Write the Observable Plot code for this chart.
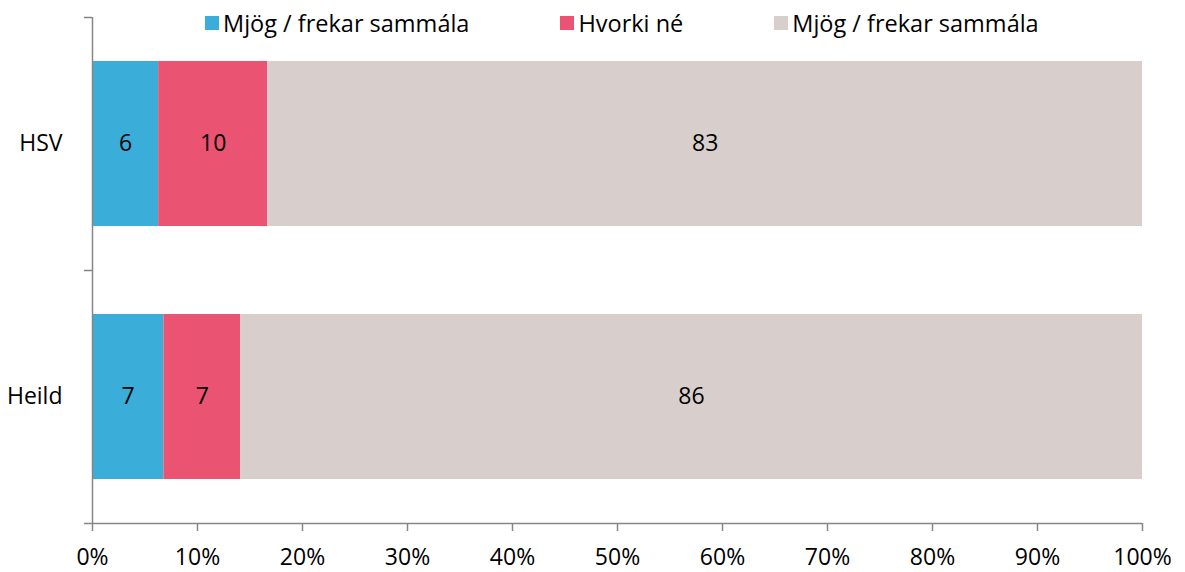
<!DOCTYPE html>
<html><head><meta charset="utf-8">
<script src="https://cdn.jsdelivr.net/npm/d3@7"></script>
<script src="https://cdn.jsdelivr.net/npm/@observablehq/plot@0.6"></script>
<style>
body{margin:0;background:#fff;font-family:"Open Sans",sans-serif;}
#wrap{position:relative;width:1185px;height:572px;overflow:hidden;}
#legend{position:absolute;top:8px;left:205px;display:flex;align-items:center;font-size:23.5px;line-height:30px;color:#000;white-space:nowrap;}
.item{display:flex;align-items:center;margin-right:91px}
.sw{width:14px;height:14px;margin-right:4px;flex:none}
svg{display:block}
</style></head><body><div id="wrap"><div id="legend"></div></div>
<script>
// ---- data ----
const categories = ["HSV", "Heild"];
const seriesKeys = ["s1", "s2", "s3"];
const seriesLabels = ["Mjög / frekar sammála", "Hvorki né", "Mjög / frekar sammála"];
const hsvValues = [6.3, 10.4, 83.3];
const heildValues = [6.8, 7.3, 85.9];
const xTicks = [0, 10, 20, 30, 40, 50, 60, 70, 80, 90, 100];
// ---- styles ----
const seriesColors = ["#3BADD9", "#EB5372", "#D8CFCD"];
const axisGray = "#868686";
const fontFamily = "'Open Sans', sans-serif";

const valuesByCat = [hsvValues, heildValues];
const rows = categories.flatMap((c, i) => seriesKeys.map((k, j) => ({cat: c, key: k, value: valuesByCat[i][j]})));

const W = 1185, H = 572, mT = 17, mB = 49, mL = 92, mR = 43;
const step = (H - mT - mB) / categories.length;

const chart = Plot.plot({
  width: W, height: H,
  marginTop: mT, marginBottom: mB, marginLeft: mL, marginRight: mR,
  style: {fontFamily, fontSize: "23px", color: "#000", background: "#fff", overflow: "visible"},
  x: {domain: [0, 100], label: null},
  y: {domain: categories, paddingInner: 0.348, paddingOuter: 0.174, label: null},
  color: {domain: seriesKeys, range: seriesColors},
  marks: [
    Plot.barX(rows, Plot.stackX({x: "value", y: "cat", fill: "key"})),
    Plot.textX(rows, Plot.stackX({x: "value", y: "cat", z: "key", text: d => d3.format(".0f")(d.value), fill: "#000", fontSize: 23})),
    Plot.ruleX([0], {stroke: axisGray, strokeWidth: 1.5}),
    Plot.ruleY([categories[categories.length - 1]], {dy: step / 2, x1: 0, x2: 100, insetLeft: -8, stroke: axisGray, strokeWidth: 1.5}),
    Plot.ruleY(categories, {dy: -step / 2, x1: 0, x2: 0, insetLeft: -8, stroke: axisGray, strokeWidth: 1.5}),
    Plot.axisX({ticks: xTicks, tickSize: 8, tickPadding: 17, tickFormat: d => d + "%", stroke: axisGray, strokeWidth: 1.5, fill: "#000", fontSize: 23}),
    Plot.axisY({tickSize: 0, tickPadding: 30, fill: "#000", fontSize: 23})
  ]
});
document.getElementById("wrap").prepend(chart);

const legend = document.getElementById("legend");
seriesKeys.forEach((k, i) => {
  const item = document.createElement("div");
  item.className = "item";
  const sw = document.createElement("span");
  sw.className = "sw";
  sw.style.background = seriesColors[i];
  const t = document.createElement("span");
  t.textContent = seriesLabels[i];
  item.append(sw, t);
  legend.append(item);
});
</script>
</body></html>
